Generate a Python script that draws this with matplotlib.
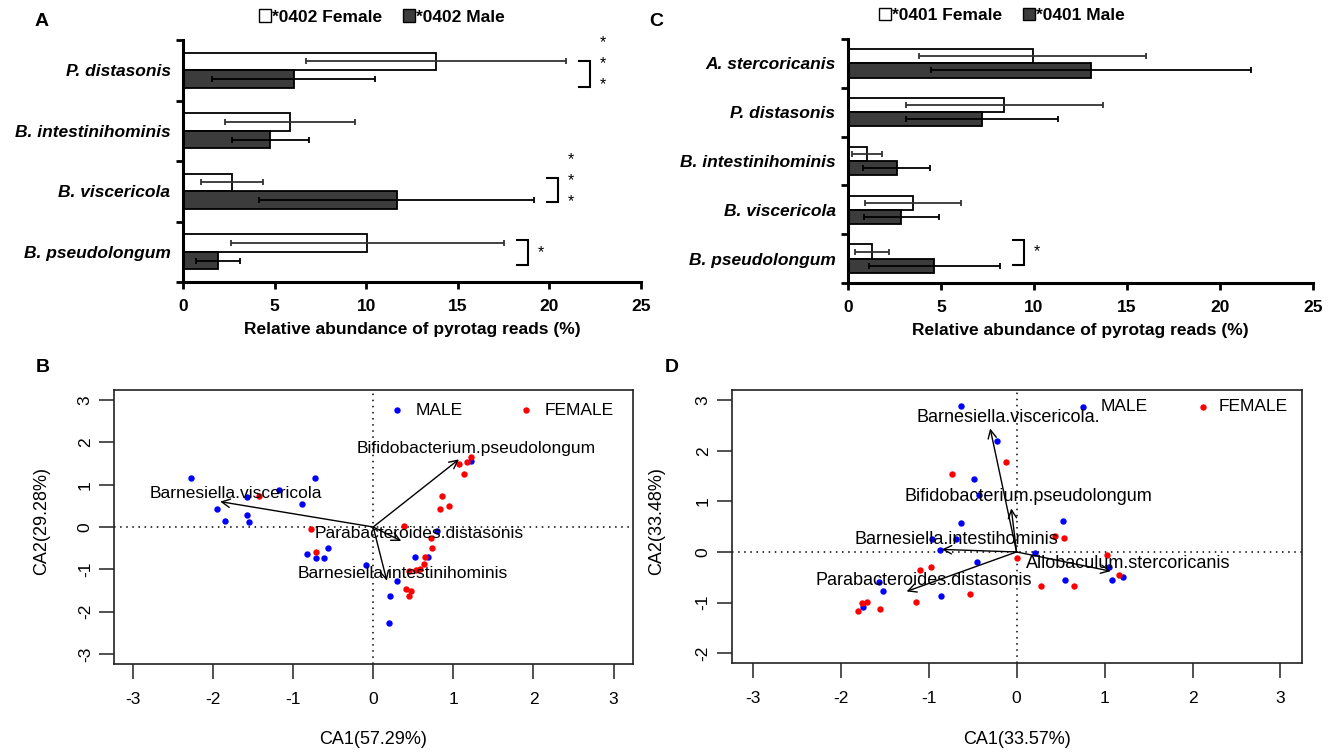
import matplotlib
matplotlib.use('Agg')
import matplotlib.pyplot as plt
from matplotlib.patches import Patch
from matplotlib.ticker import FixedLocator

plt.rcParams['font.family'] = ['Liberation Sans', 'DejaVu Sans']

# ---------------- data ----------------
# Panel A (*0402)
a_species = ['P. distasonis', 'B. intestinihominis', 'B. viscericola', 'B. pseudolongum']
a_female = [13.8, 5.86, 2.69, 10.07]
a_female_sd = [7.1, 3.55, 1.7, 7.47]
a_male = [6.05, 4.76, 11.66, 1.89]
a_male_sd = [4.45, 2.1, 7.5, 1.2]
a_sig = ['***', '', '***', '*']

# Panel C (*0401)
c_species = ['A. stercoricanis', 'P. distasonis', 'B. intestinihominis', 'B. viscericola', 'B. pseudolongum']
c_female = [9.93, 8.40, 1.04, 3.5, 1.30]
c_female_sd = [6.1, 5.3, 0.8, 2.6, 0.9]
c_male = [13.08, 7.2, 2.62, 2.87, 4.65]
c_male_sd = [8.6, 4.1, 1.8, 2.0, 3.5]
c_sig = ['', '', '', '', '*']

# Panel B (CA, *0402)
b_male_x = [-2.27, -0.73, -1.18, -1.58, -0.89, -1.95, -1.57, -1.85, -1.55, -0.56, -0.83,
            -0.72, -0.61, -0.09, 0.30, 0.21, 0.20, 0.52, 0.68, 0.80, 1.22]
b_male_y = [1.17, 1.16, 0.87, 0.70, 0.55, 0.42, 0.28, 0.14, 0.12, -0.49, -0.63,
            -0.73, -0.73, -0.89, -1.28, -1.64, -2.28, -0.70, -0.70, -0.10, 1.55]
b_female_x = [-1.42, -0.78, -0.72, 0.39, 0.86, 0.83, 0.94, 1.07, 1.17, 1.22, 1.13,
              0.72, 0.73, 0.65, 0.64, 0.58, 0.53, 0.45, 0.41, 0.47, 0.45]
b_female_y = [0.74, -0.05, -0.60, 0.03, 0.73, 0.43, 0.49, 1.48, 1.54, 1.66, 1.26,
              -0.25, -0.50, -0.70, -0.88, -0.99, -1.01, -1.03, -1.46, -1.52, -1.64]
b_arrow_names = ['Bifidobacterium.pseudolongum', 'Barnesiella.viscericola',
                 'Parabacteroides.distasonis', 'Barnesiella.intestinihominis']
b_arrow_x = [1.07, -1.91, 0.35, 0.17]
b_arrow_y = [1.60, 0.60, -0.33, -1.27]
b_label_x = [1.28, -1.71, 0.57, 0.37]
b_label_y = [1.85, 0.79, -0.16, -1.10]

# Panel D (CA, *0401)
d_male_x = [-0.63, -0.22, -0.48, -0.43, -0.63, 0.53, -0.96, -0.69, -0.87, 0.21, -0.45,
            1.05, 0.55, 1.08, 1.21, -1.56, -1.52, -0.86, -1.74]
d_male_y = [2.89, 2.20, 1.45, 1.13, 0.58, 0.61, 0.26, 0.25, 0.04, -0.03, -0.19,
            -0.29, -0.56, -0.56, -0.49, -0.59, -0.78, -0.87, -1.08]
d_female_x = [-0.12, -0.73, 0.44, 0.54, 0.00, 1.03, 1.17, -0.97, -1.10, 0.28, 0.65,
              -0.53, -1.14, -1.55, -1.70, -1.76, -1.80]
d_female_y = [1.77, 1.55, 0.32, 0.27, -0.12, -0.06, -0.45, -0.29, -0.36, -0.67, -0.68,
              -0.84, -0.98, -1.12, -0.98, -1.00, -1.16]
d_arrow_names = ['Barnesiella.viscericola.', 'Bifidobacterium.pseudolongum',
                 'Barnesiella.intestihominis', 'Allobaculum.stercoricanis',
                 'Parabacteroides.distasonis']
d_arrow_x = [-0.30, -0.06, -0.85, 1.07, -1.25]
d_arrow_y = [2.44, 0.86, 0.05, -0.38, -0.78]
d_label_x = [-0.09, 0.14, -0.68, 1.27, -1.06]
d_label_y = [2.65, 1.09, 0.25, -0.22, -0.57]

# ---------------- figure ----------------
W, H = 1335, 752
fig = plt.figure(figsize=(W / 100, H / 100), dpi=100)


def rect(l, t, r, b):
    return [l / W, 1 - b / H, (r - l) / W, (b - t) / H]


MALE_FILL = '#3c3c3c'


def bar_panel(ax, species, fem, fem_sd, mal, mal_sd, sig, brackets, legend_x, tags):
    n = len(species)
    pos = list(range(n))
    h = 0.29
    fpos = [p - h / 2 for p in pos]
    mpos = [p + h / 2 for p in pos]
    ax.barh(fpos, fem, height=h, color='white', edgecolor='black', linewidth=1.3, zorder=2)
    ax.barh(mpos, mal, height=h, color=MALE_FILL, edgecolor='black', linewidth=1.3, zorder=2)
    ax.errorbar(fem, fpos, xerr=fem_sd, fmt='none', ecolor='#333333', elinewidth=1.3,
                capsize=2.5, capthick=1.3, zorder=3)
    ax.errorbar(mal, mpos, xerr=mal_sd, fmt='none', ecolor='black', elinewidth=1.3,
                capsize=2.5, capthick=1.3, zorder=3)
    ax.set_xlim(0, 25)
    ax.set_ylim(n - 0.5, -0.5)
    ax.set_xticks([0, 5, 10, 15, 20, 25])
    ax.set_xticklabels(['0', '5', '10', '15', '20', '25'], fontsize=12.5, fontweight='bold')
    ax.set_yticks(pos)
    ax.set_yticklabels(species, fontsize=12.5, fontweight='bold', fontstyle='italic')
    ax.yaxis.set_minor_locator(FixedLocator([p - 0.5 for p in pos] + [n - 0.5]))
    ax.tick_params(axis='y', which='major', length=0, pad=9)
    ax.tick_params(axis='y', which='minor', length=5, width=2, direction='out')
    ax.tick_params(axis='x', which='major', length=5, width=2, direction='out', pad=7)
    for s in ['top', 'right']:
        ax.spines[s].set_visible(False)
    for s in ['left', 'bottom']:
        ax.spines[s].set_linewidth(2.2)
    ax.set_xlabel('Relative abundance of pyrotag reads (%)', fontsize=12.5,
                  fontweight='bold', labelpad=6)
    # significance brackets
    for i, s in enumerate(sig):
        if not s:
            continue
        top, bot, star_c = brackets[i]
        x0 = max(fem[i] + fem_sd[i], mal[i] + mal_sd[i]) + 0.7
        x1 = x0 + 0.6
        ax.plot([x0, x1, x1, x0], [i + top, i + top, i + bot, i + bot], color='black',
                lw=1.5, clip_on=False, zorder=4, solid_joinstyle='miter')
        k = len(s)
        for j in range(k):
            yy = i + star_c + (j - (k - 1) / 2) * 0.35
            ax.text(x1 + 0.7, yy + 0.03, '*', ha='center', va='center', fontsize=11.5,
                    clip_on=False)
    handles = [Patch(facecolor='white', edgecolor='black', linewidth=1.0),
               Patch(facecolor=MALE_FILL, edgecolor='black', linewidth=1.0)]
    ax.legend(handles, tags, loc='center', bbox_to_anchor=(legend_x, 1.095), ncol=2,
              frameon=False, handlelength=0.7, handleheight=0.7, handletextpad=0.05,
              columnspacing=1.2, prop={'weight': 'bold', 'size': 12.5})


axA = fig.add_axes(rect(183, 40, 641, 282))
bar_panel(axA, a_species, a_female, a_female_sd, a_male, a_male_sd, a_sig,
          {0: (-0.15, 0.27, -0.14), 2: (-0.22, 0.17, -0.21), 3: (-0.19, 0.22, -0.02)},
          0.434, ['*0402 Female', '*0402 Male'])

axC = fig.add_axes(rect(848, 39, 1313, 283))
bar_panel(axC, c_species, c_female, c_female_sd, c_male, c_male_sd, c_sig,
          {4: (-0.38, 0.14, -0.18)}, 0.331, ['*0401 Female', '*0401 Male'])


def ca_panel(ax, mx, my, fx, fy, names, axx, axy, lx, ly, ylim, yticks, fs, leg, xlab, ylab,
             ylab_px, box):
    ax.set_xlim(-3.24, 3.24)
    ax.set_ylim(*ylim)
    ax.axhline(0, color='black', lw=1.1, ls=(0, (1, 3)), zorder=1)
    ax.axvline(0, color='black', lw=1.1, ls=(0, (1, 3)), zorder=1)
    ax.plot(mx, my, 'o', color='#0000ff', ms=4.6, mew=0, zorder=2)
    ax.plot(fx, fy, 'o', color='#ff0000', ms=4.6, mew=0, zorder=2)
    for i in range(len(names)):
        ax.annotate('', xy=(axx[i], axy[i]), xytext=(0, 0),
                    arrowprops=dict(arrowstyle='->,head_length=0.6,head_width=0.3',
                                    color='black', lw=1.0, shrinkA=0, shrinkB=0), zorder=3)
        ax.text(lx[i], ly[i], names[i], ha='center', va='center', fontsize=fs, zorder=4)
    # legend
    mdot, mtext, fdot, ftext, ly_ = leg
    ax.plot([mdot], [ly_], 'o', color='#0000ff', ms=4.6, mew=0)
    ax.plot([fdot], [ly_], 'o', color='#ff0000', ms=4.6, mew=0)
    ax.text(mtext, ly_, 'MALE', ha='left', va='center', fontsize=12.5)
    ax.text(ftext, ly_, 'FEMALE', ha='left', va='center', fontsize=12.5)
    ax.set_xticks([-3, -2, -1, 0, 1, 2, 3])
    ax.set_xticklabels(['-3', '-2', '-1', '0', '1', '2', '3'], fontsize=12.5)
    ax.set_yticks(yticks)
    ax.set_yticklabels([str(v) for v in yticks], fontsize=12.5, rotation=90, va='center')
    ax.tick_params(axis='x', length=11, width=1.1, pad=9, color='#222222')
    ax.tick_params(axis='y', length=11, width=1.1, pad=4, color='#222222')
    for s in ax.spines.values():
        s.set_linewidth(1.2)
        s.set_color('#222222')
    l, t, r, b = box
    fig.text(((l + r) / 2) / W, 1 - 740 / H, xlab, ha='center', va='center', fontsize=13)
    fig.text(ylab_px / W, 1 - 521 / H, ylab, ha='center', va='center', fontsize=13,
             rotation=90)


boxB = (113.6, 390, 632.8, 664)
axB = fig.add_axes(rect(*boxB))
ca_panel(axB, b_male_x, b_male_y, b_female_x, b_female_y, b_arrow_names, b_arrow_x, b_arrow_y,
         b_label_x, b_label_y, (-3.24, 3.24), [-3, -2, -1, 0, 1, 2, 3], 12.5,
         (0.30, 0.53, 1.91, 2.14, 2.76), 'CA1(57.29%)', 'CA2(29.28%)', 42, boxB)

boxD = (731.5, 390, 1301.6, 663.3)
axD = fig.add_axes(rect(*boxD))
ca_panel(axD, d_male_x, d_male_y, d_female_x, d_female_y, d_arrow_names, d_arrow_x, d_arrow_y,
         d_label_x, d_label_y, (-2.2, 3.2), [-2, -1, 0, 1, 2, 3], 13,
         (0.76, 0.95, 2.12, 2.30, 2.87), 'CA1(33.57%)', 'CA2(33.48%)', 657, boxD)

# panel letters
for letter, x, y in [('A', 42, 22), ('C', 656, 22), ('B', 43, 368), ('D', 672, 368)]:
    fig.text(x / W, 1 - y / H, letter, ha='center', va='center', fontsize=14,
             fontweight='bold')

fig.savefig('out.png', dpi=100)
